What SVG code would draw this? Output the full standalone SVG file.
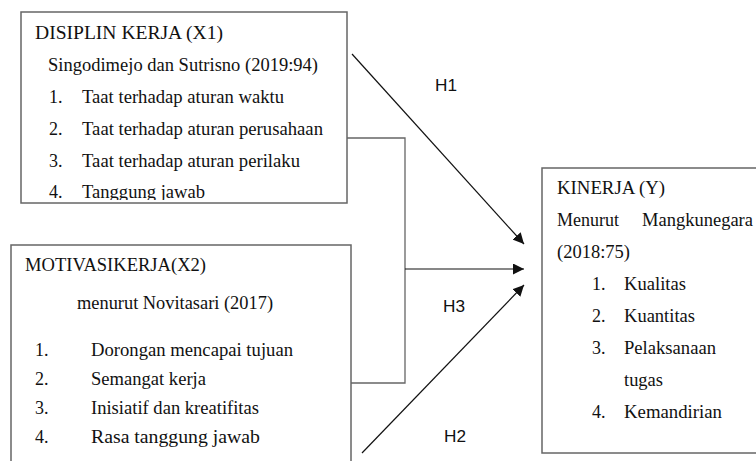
<svg xmlns="http://www.w3.org/2000/svg" width="756" height="461" viewBox="0 0 756 461">
<style>
.box{fill:#fff;stroke:#666;stroke-width:1.5}
.t{font-family:"Liberation Serif","Times New Roman",serif;font-size:18px;fill:#111}
.h{font-family:"Liberation Sans",Arial,sans-serif;font-size:16px;fill:#111}
.ln{fill:none;stroke:#111;stroke-width:1.2}
.br{fill:none;stroke:#666;stroke-width:1.3}
</style>
<defs>
<marker id="ah" viewBox="0 0 10 10" refX="10" refY="5" markerWidth="11" markerHeight="11" markerUnits="userSpaceOnUse" orient="auto">
<path d="M0,0 L10,5 L0,10 z" fill="#111"/>
</marker>
<clipPath id="c1"><rect x="21" y="12" width="326" height="188"/></clipPath>
</defs>
<rect width="756" height="461" fill="#fff"/>
<g id="connectors">
<polyline class="br" points="347,138 405,138 405,383 351,383"/>
<line class="ln" x1="405" y1="269" x2="524" y2="269" marker-end="url(#ah)"/>
<line class="ln" x1="352" y1="54" x2="524" y2="244" marker-end="url(#ah)"/>
<line class="ln" x1="362" y1="453" x2="524" y2="285" marker-end="url(#ah)"/>
<text class="h" x="435" y="91" textLength="22" lengthAdjust="spacingAndGlyphs">H1</text>
<text class="h" x="443" y="312" textLength="22" lengthAdjust="spacingAndGlyphs">H3</text>
<text class="h" x="444" y="442" textLength="22" lengthAdjust="spacingAndGlyphs">H2</text>
</g>
<g id="x1">
<rect class="box" x="21" y="12" width="326" height="191"/>
<g clip-path="url(#c1)">
<text class="t" x="35" y="39" textLength="188" lengthAdjust="spacingAndGlyphs">DISIPLIN KERJA (X1)</text>
<text class="t" x="48" y="71" textLength="270" lengthAdjust="spacingAndGlyphs">Singodimejo dan Sutrisno (2019:94)</text>
<text class="t" x="49" y="103">1.</text>
<text class="t" x="82" y="103" textLength="202" lengthAdjust="spacingAndGlyphs">Taat terhadap aturan waktu</text>
<text class="t" x="49" y="135">2.</text>
<text class="t" x="82" y="135" textLength="241" lengthAdjust="spacingAndGlyphs">Taat terhadap aturan perusahaan</text>
<text class="t" x="49" y="167">3.</text>
<text class="t" x="82" y="167" textLength="218" lengthAdjust="spacingAndGlyphs">Taat terhadap aturan perilaku</text>
<text class="t" x="49" y="198">4.</text>
<text class="t" x="82" y="198" textLength="123" lengthAdjust="spacingAndGlyphs">Tanggung jawab</text>
</g>
</g>
<g id="x2">
<rect class="box" x="11" y="245" width="340" height="230"/>
<text class="t" x="25" y="271" textLength="181" lengthAdjust="spacingAndGlyphs">MOTIVASIKERJA(X2)</text>
<text class="t" x="77" y="309" textLength="196" lengthAdjust="spacingAndGlyphs">menurut Novitasari (2017)</text>
<text class="t" x="35" y="356">1.</text>
<text class="t" x="91" y="356" textLength="202" lengthAdjust="spacingAndGlyphs">Dorongan mencapai tujuan</text>
<text class="t" x="35" y="385">2.</text>
<text class="t" x="91" y="385" textLength="115" lengthAdjust="spacingAndGlyphs">Semangat kerja</text>
<text class="t" x="35" y="414">3.</text>
<text class="t" x="91" y="414" textLength="168" lengthAdjust="spacingAndGlyphs">Inisiatif dan kreatifitas</text>
<text class="t" x="35" y="443">4.</text>
<text class="t" x="91" y="443" textLength="169" lengthAdjust="spacingAndGlyphs">Rasa tanggung jawab</text>
</g>
<g id="y">
<rect class="box" x="542" y="168" width="230" height="285"/>
<text class="t" x="557" y="194" textLength="108" lengthAdjust="spacingAndGlyphs">KINERJA (Y)</text>
<text class="t" x="557" y="226">Menurut</text>
<text class="t" x="642" y="226" textLength="111" lengthAdjust="spacingAndGlyphs">Mangkunegara</text>
<text class="t" x="557" y="258" textLength="73" lengthAdjust="spacingAndGlyphs">(2018:75)</text>
<text class="t" x="592" y="290">1.</text>
<text class="t" x="624" y="290" textLength="62" lengthAdjust="spacingAndGlyphs">Kualitas</text>
<text class="t" x="592" y="322">2.</text>
<text class="t" x="624" y="322" textLength="71" lengthAdjust="spacingAndGlyphs">Kuantitas</text>
<text class="t" x="592" y="354">3.</text>
<text class="t" x="624" y="354" textLength="92" lengthAdjust="spacingAndGlyphs">Pelaksanaan</text>
<text class="t" x="624" y="386" textLength="39" lengthAdjust="spacingAndGlyphs">tugas</text>
<text class="t" x="592" y="418">4.</text>
<text class="t" x="624" y="418" textLength="98" lengthAdjust="spacingAndGlyphs">Kemandirian</text>
</g>
</svg>
